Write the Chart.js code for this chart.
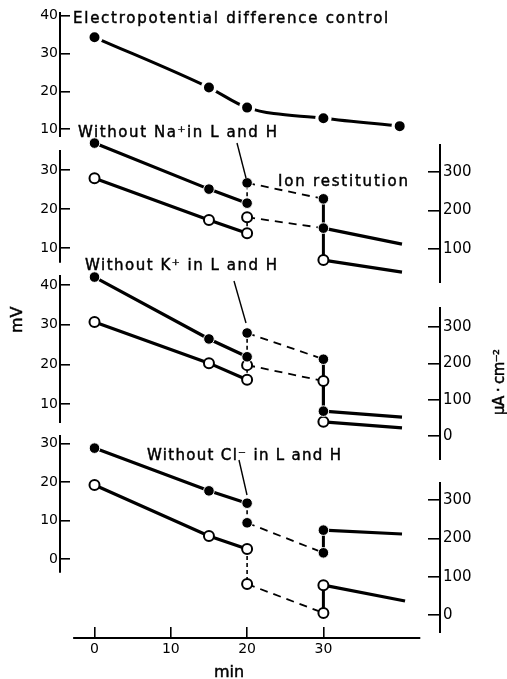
<!DOCTYPE html>
<html>
<head>
<meta charset="utf-8">
<script src="https://cdn.jsdelivr.net/npm/chart.js@4.4.1/dist/chart.umd.min.js"></script>
<style>
  html, body { margin: 0; padding: 0; background: #fff; }
  #wrap { position: relative; width: 507px; height: 679px; overflow: hidden; }
  #wrap canvas { position: absolute; left: 0; top: 0; }
</style>
</head>
<body>
<div id="wrap">
  <canvas id="pCtrl" width="507" height="679"></canvas>
  <canvas id="pNa" width="507" height="679"></canvas>
  <canvas id="pK" width="507" height="679"></canvas>
  <canvas id="pCl" width="507" height="679"></canvas>
</div>
<script>
// ── Data (all series in left-axis units, mV) ──
const ctrlTime = [0, 15, 20, 30, 40];
const ctrlPd   = [34.3, 21.0, 15.7, 12.9, 10.8];

const ctrlPhaseTime = [0, 15, 20];   // before ion removal
const ionPhaseTime  = [20, 30];      // ion removed (dashed)

// Without Na+ in L and H
const naFilledCtrl = [36.9, 25.1, 21.5];
const naOpenCtrl   = [27.9, 17.2, 13.8];
const naFilledIon  = [26.7, 22.6];
const naOpenIon    = [17.9, 15.1];
const naRestTime   = [30, 40.3];
const naFilledRest = [15.1, 11.0];
const naOpenRest   = [6.9, 3.8];

// Without K+ in L and H
const kFilledCtrl = [42.0, 26.4, 21.9];
const kOpenCtrl   = [30.7, 20.3, 16.1];
const kFilledIon  = [27.9, 21.3];
const kOpenIon    = [19.8, 15.8];
const kRestTime   = [30, 40.3];
const kFilledRest = [8.2, 6.7];
const kOpenRest   = [5.5, 4.0];

// Without Cl- in L and H
const clFilledCtrl = [28.8, 17.7, 14.5];
const clOpenCtrl   = [19.2, 6.0, 2.6];
const clFilledIon  = [9.4, 1.6];
const clOpenIon    = [-6.5, -14.0];
const clRestTime   = [30, 40.3];
const clOpenRestTime = [30, 40.7];
const clFilledRest = [7.5, 6.5];
const clOpenRest   = [-6.8, -10.9];

// tick labels
const xTicks     = [0, 10, 20, 30];
const ctrlTicks  = [10, 20, 30, 40];
const naTicks    = [10, 20, 30];
const kTicks     = [10, 20, 30, 40];
const clTicks    = [0, 10, 20, 30];
const naCurTicks = [100, 200, 300];
const curTicks   = [0, 100, 200, 300];

// ── Style ──────────────────────────────────────────────────
const FONT = '"DejaVu Sans", sans-serif';
const INK = '#000';

const FILLED = { pointRadius: 5.3, pointBackgroundColor: INK, pointBorderColor: '#fff', pointBorderWidth: 1 };
const OPEN   = { pointRadius: 5, pointBackgroundColor: '#fff', pointBorderColor: INK, pointBorderWidth: 2 };
const DASH   = { borderWidth: 1.8, borderDash: [8, 6] };

// linear value<->pixel map from two anchors
function lin(v1, p1, v2, p2) {
    return p => v1 + (p - p1) * (v2 - v1) / (p2 - p1);
}
function vRange(v1, p1, v2, p2, top, bottom) {
    const f = lin(v1, p1, v2, p2);
    return { min: f(bottom), max: f(top) };
}
const xMap = lin(0, 94.5, 30, 323.4);
const X_MIN = xMap(70), X_MAX = xMap(428);

function pts(xs, ys) {
    return xs.map((x, i) => ({ x, y: ys[i] }));
}

function line(xs, ys, opts) {
    return Object.assign({
        data: pts(xs, ys),
        showLine: true,
        clip: false,
        borderColor: INK,
        borderWidth: 3.2,
        pointRadius: 0,
        tension: 0,
    }, opts);
}

function ionDatasets(p) {
    const last = a => a[a.length - 1];
    return [
        line(ctrlPhaseTime, p.filledCtrl, FILLED),
        line(ionPhaseTime, p.filledIon, { ...FILLED, ...DASH }),
        line(p.restTime, p.filledRest, { ...FILLED, pointRadius: [5.3, 0] }),
        line(ctrlPhaseTime, p.openCtrl, OPEN),
        line(ionPhaseTime, p.openIon, { ...OPEN, ...DASH, pointRadius: p.openJoins ? [5, 0] : 5 }),
        line(p.openRestTime || p.restTime, p.openRest, { ...OPEN, pointRadius: [5, 0] }),
        // drop at 20 min (ion removal)
        line([20, 20], [last(p.filledCtrl), p.filledIon[0]], { borderWidth: 1.6, borderDash: [4, 3] }),
        line([20, 20], [last(p.openCtrl), p.openIon[0]], { borderWidth: 1.6, borderDash: [4, 3] }),
        // jump at 30 min (ion restitution)
        line([30, 30], [last(p.filledIon), p.filledRest[0]], { borderWidth: 3 }),
        line([30, 30], [last(p.openIon), p.openRest[0]], { borderWidth: 3 }),
    ];
}

function yAxis(pos, range, ticks) {
    const left = pos === 'left';
    return {
        type: 'linear',
        position: pos,
        min: range.min,
        max: range.max,
        afterFit: s => { s.width = left ? 70 : 79; s.paddingTop = 0; s.paddingBottom = 0; },
        afterBuildTicks: s => { s.ticks = ticks.map(v => ({ value: v })); },
        border: { display: false },
        grid: { drawOnChartArea: false, drawTicks: true, tickLength: left ? 10 : 12, color: INK, lineWidth: 1.6 },
        ticks: { color: INK, padding: left ? 2 : 3, font: { family: FONT, size: left ? 14 : 15 } },
    };
}

function xAxis(show) {
    if (!show) return { type: 'linear', min: X_MIN, max: X_MAX, display: false };
    return {
        type: 'linear',
        position: 'bottom',
        min: X_MIN,
        max: X_MAX,
        afterFit: s => { s.height = 52; s.paddingLeft = 0; s.paddingRight = 0; },
        afterBuildTicks: s => { s.ticks = xTicks.map(v => ({ value: v })); },
        border: { display: false },
        grid: { drawOnChartArea: false, drawTicks: true, tickLength: 11, color: INK, lineWidth: 1.6 },
        ticks: { color: INK, padding: 3, maxRotation: 0, autoSkip: false, font: { family: FONT, size: 14 } },
    };
}

// axis lines drawn at the outer end of the ticks, over a value span
function axisLines(spans) {
    return {
        id: 'axisLines',
        afterDraw(chart) {
            const ctx = chart.ctx;
            ctx.save();
            ctx.strokeStyle = INK;
            ctx.lineWidth = 2;
            spans.forEach(([id, from, to]) => {
                const s = chart.scales[id];
                const tl = s.options.grid.tickLength;
                ctx.beginPath();
                if (s.isHorizontal()) {
                    const y = s.top + tl;
                    ctx.moveTo(s.getPixelForValue(from), y);
                    ctx.lineTo(s.getPixelForValue(to), y);
                } else {
                    const x = s.position === 'left' ? s.right - tl : s.left + tl;
                    ctx.moveTo(x, s.getPixelForValue(from));
                    ctx.lineTo(x, s.getPixelForValue(to));
                }
                ctx.stroke();
            });
            ctx.restore();
        },
    };
}

function fitText(ctx, str, x, y, width, size) {
    ctx.font = size + 'px ' + FONT;
    ctx.letterSpacing = '0px';
    const natural = ctx.measureText(str).width;
    const n = [...str].length;
    if (width) ctx.letterSpacing = ((width - natural) / (n - 1)) + 'px';
    ctx.fillText(str, x, y);
    ctx.lineWidth = 0.45;
    ctx.strokeText(str, x, y);   // slightly heavier strokes, like the print
    ctx.letterSpacing = '0px';
}

const notes = [
    ['Electropotential difference control', 73, 23, 315],
    ['Without Na⁺in L and H', 78, 137, 199],
    ['Ion restitution', 278, 186, 130],
    ['Without K⁺ in L and H', 85, 270, 192],
    ['Without Cl⁻ in L and H', 147, 460, 194],
];
const leaders = [
    [237, 143, 246, 178],
    [234, 281, 246, 323],
    [239, 460, 247, 495],
];

const annotations = {
    id: 'annotations',
    afterDraw(chart) {
        const ctx = chart.ctx;
        ctx.save();
        ctx.fillStyle = INK;
        ctx.strokeStyle = INK;
        ctx.textBaseline = 'alphabetic';
        ctx.textAlign = 'left';
        notes.forEach(([t, x, y, w]) => fitText(ctx, t, x, y, w, 15));
        leaders.forEach(([x1, y1, x2, y2]) => {
            ctx.lineWidth = 1.4;
            ctx.beginPath(); ctx.moveTo(x1, y1); ctx.lineTo(x2, y2); ctx.stroke();
        });
        fitText(ctx, 'min', 214, 677, 0, 16);
        // rotated axis titles
        ctx.save();
        ctx.translate(22, 320); ctx.rotate(-Math.PI / 2);
        fitText(ctx, 'mV', -13, 0, 0, 16);
        ctx.restore();
        ctx.save();
        ctx.translate(504, 382); ctx.rotate(-Math.PI / 2);
        fitText(ctx, 'µA · cm⁻²', -33, 0, 66, 15);
        ctx.restore();
        ctx.restore();
    },
};

function makeChart(id, datasets, scales, padding, plugins) {
    return new Chart(document.getElementById(id), {
        type: 'scatter',
        data: { datasets },
        options: {
            responsive: false,
            animation: false,
            events: [],
            devicePixelRatio: 1,
            layout: { padding },
            plugins: { legend: { display: false }, tooltip: { enabled: false } },
            scales,
        },
        plugins,
    });
}

// ── Panel 1: control ──
makeChart('pCtrl',
    [line(ctrlTime, ctrlPd, {
        borderWidth: 3, cubicInterpolationMode: 'monotone',
        pointRadius: 6.6, pointBackgroundColor: INK, pointBorderColor: '#fff', pointBorderWidth: 3.2,
    })],
    { x: xAxis(false), y: yAxis('left', vRange(40, 14, 10, 129, 8, 140), ctrlTicks) },
    { top: 8, bottom: 679 - 140, left: 0, right: 79 },
    [axisLines([['y', 7.9, 41.0]])]);

// ── Panel 2: without Na+ ──
makeChart('pNa',
    ionDatasets({ filledCtrl: naFilledCtrl, openCtrl: naOpenCtrl, filledIon: naFilledIon, openIon: naOpenIon,
                  restTime: naRestTime, filledRest: naFilledRest, openRest: naOpenRest, openJoins: true }),
    { x: xAxis(false),
      y: yAxis('left', vRange(30, 170, 10, 248, 140, 285), naTicks),
      y2: yAxis('right', vRange(300, 172, 100, 249, 140, 285), naCurTicks) },
    { top: 140, bottom: 679 - 285, left: 0, right: 0 },
    [axisLines([['y', 6.2, 35.1], ['y2', 12, 373]])]);

// ── Panel 3: without K+ ──
makeChart('pK',
    ionDatasets({ filledCtrl: kFilledCtrl, openCtrl: kOpenCtrl, filledIon: kFilledIon, openIon: kOpenIon,
                  restTime: kRestTime, filledRest: kFilledRest, openRest: kOpenRest }),
    { x: xAxis(false),
      y: yAxis('left', vRange(40, 285, 10, 404, 265, 462), kTicks),
      y2: yAxis('right', vRange(300, 327, 0, 436, 265, 462), curTicks) },
    { top: 265, bottom: 679 - 462, left: 0, right: 0 },
    [axisLines([['y', 5.2, 42.5], ['y2', -66, 355]])]);

// ── Panel 4: without Cl- (carries the time axis and the labels) ──
makeChart('pCl',
    ionDatasets({ filledCtrl: clFilledCtrl, openCtrl: clOpenCtrl, filledIon: clFilledIon, openIon: clOpenIon,
                  restTime: clRestTime, openRestTime: clOpenRestTime, filledRest: clFilledRest, openRest: clOpenRest }),
    { x: xAxis(true),
      y: yAxis('left', vRange(20, 482, 0, 559, 430, 627), clTicks),
      y2: yAxis('right', vRange(300, 500, 0, 615, 430, 627), curTicks) },
    { top: 430, bottom: 0, left: 0, right: 0 },
    [axisLines([['y', -3.6, 32.2], ['y2', -47, 347], ['x', -2.8, 42.7]]), annotations]);
</script>
</body>
</html>
